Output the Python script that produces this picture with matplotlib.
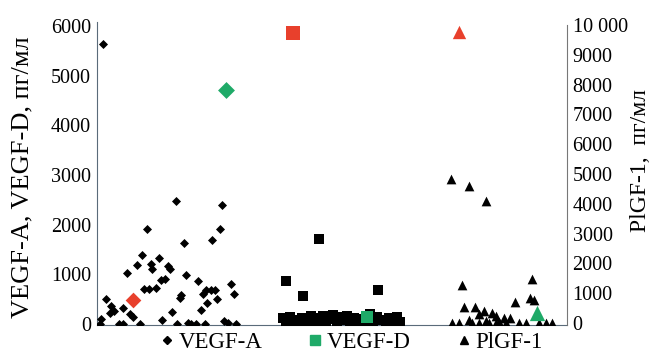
import numpy as np
import matplotlib
matplotlib.use("Agg")
import matplotlib.pyplot as plt
from matplotlib.lines import Line2D

plt.rcParams['font.family'] = ['Liberation Serif', 'DejaVu Serif']

# VEGF-A (left axis, pg/ml), x = jitter position 0..100
vegfa_x = [1.3, 16.8, 26.6, 10.6, 26.1, 18.5, 24.6, 9.6, 13.2, 8.6, 11.5, 11.8, 15.1, 15.5,
           6.5, 19.0, 13.6, 14.5, 21.5, 28.5, 29.1, 10.0, 11.0, 12.5, 23.3, 24.3, 25.1, 22.6,
           25.5, 17.9, 17.6, 23.4, 22.1, 1.9, 3.0, 3.6, 2.8, 5.5, 7.0, 7.8, 15.9, 13.9, 1.0,
           0.6, 4.7, 5.6, 9.1, 17.0, 19.4, 20.1, 21.0, 23.1, 27.0, 28.0, 29.5]
vegfa_y = [5631, 2482, 2390, 1913, 1919, 1637, 1697, 1395, 1323, 1182, 1202, 1107, 1174, 1113,
           1027, 980, 886, 900, 872, 799, 604, 699, 699, 731, 685, 685, 685, 598,
           503, 584, 517, 429, 276, 509, 362, 262, 215, 316, 195, 147, 236, 87, 95,
           0, 0, 0, 0, 0, 14, 0, 0, 0, 54, 26, 0]
vegfa_red = (7.6, 483)
vegfa_green = (27.4, 4711)

# VEGF-D (left axis)
vegfd_x = [47.3, 40.3, 43.8, 59.9,
           39.7, 40.3, 41.0, 41.8, 42.5, 43.1, 43.7, 44.4, 45.0, 45.6, 46.3, 46.9, 47.6, 48.2,
           48.8, 49.5, 50.3, 51.0, 51.6, 52.4, 53.3, 53.9, 54.8, 55.6, 56.3, 57.1, 58.0, 58.8,
           59.6, 60.5, 61.4, 62.2, 63.1, 63.9, 64.5]
vegfd_y = [1705, 872, 564, 685,
           120, 40, 150, 60, 10, 90, 130, 30, 110, 160, 60, 0, 120, 170,
           50, 100, 180, 20, 140, 80, 160, 30, 120, 60, 110, 10, 200, 50,
           150, 90, 20, 130, 60, 150, 40]
vegfd_red = (41.8, 5853)
vegfd_green = (57.4, 135)

# PlGF-1 (right axis)
plgf_x = [75.4, 79.2, 82.7, 77.6, 92.6, 89.0, 92.1, 93.0, 78.1, 80.4, 82.3, 81.2, 84.1,
          85.0, 86.7, 87.8, 79.2, 82.8, 85.6,
          75.6, 77.1, 79.8, 81.3, 83.4, 84.9, 87.0, 89.8, 91.3, 94.1, 95.5, 96.8]
plgf_y = [4832, 4608, 4094, 1275, 1466, 715, 849, 772, 527, 527, 393, 302, 325,
          235, 158, 158, 100, 60, 40,
          0, 0, 0, 0, 0, 0, 0, 0, 0, 0, 0, 0]
plgf_red = (77.1, 9775)
plgf_green = (93.7, 325)

left_ticks = [0, 1000, 2000, 3000, 4000, 5000, 6000]
right_ticks = [0, 1000, 2000, 3000, 4000, 5000, 6000, 7000, 8000, 9000, 10000]
right_labels = ['0', '1000', '2000', '3000', '4000', '5000', '6000', '7000', '8000', '9000', '10 000']

RED = '#e8402c'
GREEN = '#1faa68'
SPINE = '#5a6b7a'

fig = plt.figure(figsize=(6.54, 3.54), dpi=100)
ax = fig.add_axes([0.148, 0.082, 0.719, 0.856])
ax2 = ax.twinx()

ax.scatter(vegfa_x, vegfa_y, marker='D', s=4.6**2, c='black', lw=0, zorder=3)
ax.scatter(*vegfa_red, marker='D', s=8**2, c=RED, lw=0, zorder=4)
ax.scatter(*vegfa_green, marker='D', s=8.6**2, c=GREEN, lw=0, zorder=4)

ax.scatter(vegfd_x, vegfd_y, marker='s', s=7**2, c='black', lw=0, zorder=3)
ax.scatter(*vegfd_red, marker='s', s=10**2, c=RED, lw=0, zorder=4)
ax.scatter(*vegfd_green, marker='s', s=9**2, c=GREEN, lw=0, zorder=4)

ax2.scatter(plgf_x, plgf_y, marker='^', s=7**2, c='black', lw=0, zorder=3)
ax2.scatter(*plgf_red, marker='^', s=9.6**2, c=RED, lw=0, zorder=4)
ax2.scatter(*plgf_green, marker='^', s=11**2, c=GREEN, lw=0, zorder=4)

ax.set_xlim(0, 100)
ax.set_ylim(-20, 6080)
ax2.set_ylim(-67, 10100)
ax.set_xticks([])
ax.set_yticks(left_ticks)
ax2.set_yticks(right_ticks)
ax2.set_yticklabels(right_labels)
ax.tick_params(axis='y', length=0, pad=4, labelsize=14.5)
ax2.tick_params(axis='y', length=0, pad=4, labelsize=14.5)

for a in (ax, ax2):
    a.spines['top'].set_visible(False)
    a.set_facecolor('none')
ax.spines['right'].set_visible(False)
ax.spines['left'].set_color(SPINE)
ax.spines['bottom'].set_color(SPINE)
ax2.spines['left'].set_visible(False)
ax2.spines['bottom'].set_visible(False)
ax2.spines['right'].set_color('#777777')
ax2.spines['right'].set_bounds(-67, 10000)

# axis titles placed as in the original figure
fig.text(22 / 654, 1 - 177 / 354, 'VEGF-A, VEGF-D, пг/мл', rotation=90,
         ha='center', va='center', fontsize=19)
fig.text(641 / 654, 1 - 160 / 354, 'PlGF-1,  пг/мл', rotation=90,
         ha='center', va='center', fontsize=17)

handles = [Line2D([], [], marker='D', color='black', ls='none', markersize=4.5),
           Line2D([], [], marker='s', color=GREEN, ls='none', markersize=7),
           Line2D([], [], marker='^', color='black', ls='none', markersize=6)]
fig.legend(handles, ['VEGF-A', 'VEGF-D', 'PlGF-1'], ncol=3, frameon=False,
           loc='center left', bbox_to_anchor=(0.228, 0.033), fontsize=16.5,
           handlelength=0.6, handletextpad=0.2, columnspacing=2.0, borderpad=0)

fig.savefig('out.png', dpi=100)
